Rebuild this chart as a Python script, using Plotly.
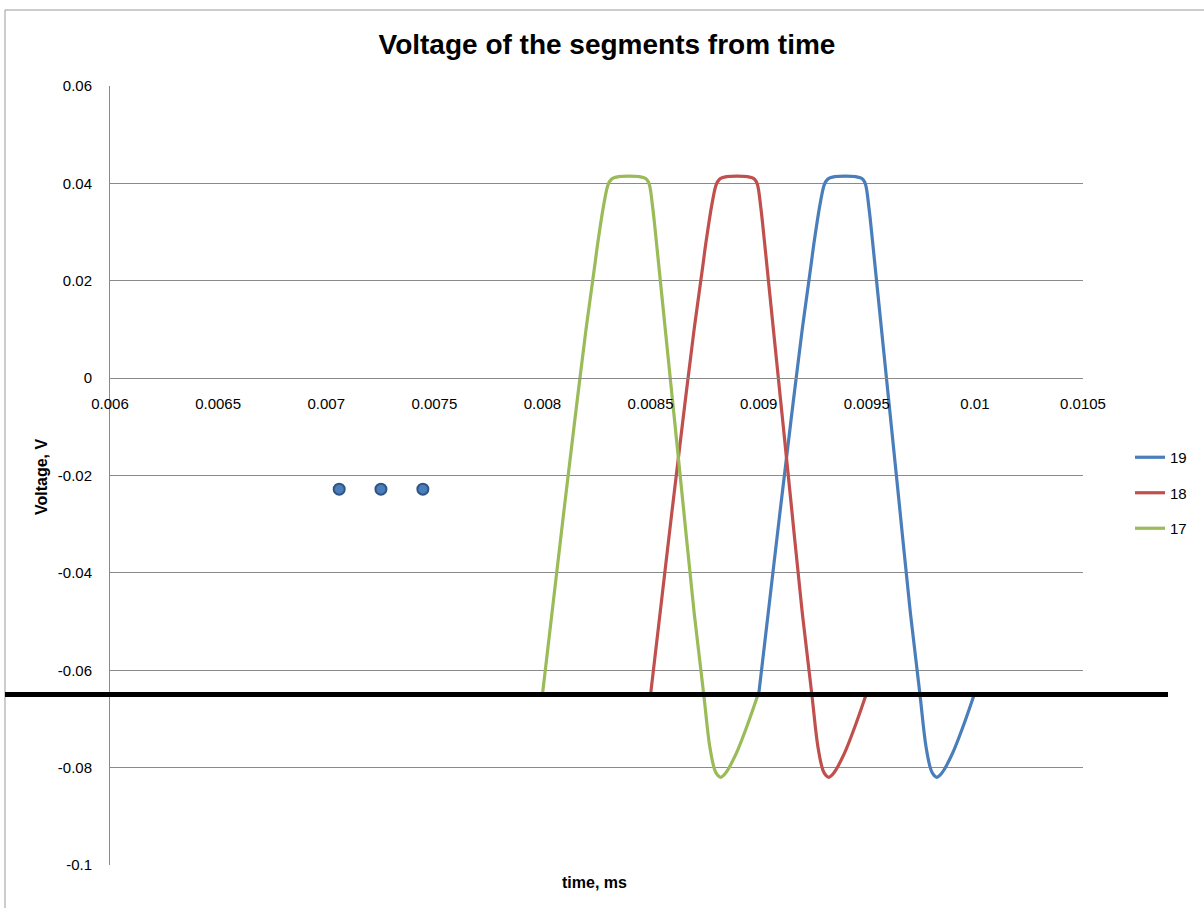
import plotly.graph_objects as go

# ---------------- data ----------------
t17 = [0.008000, 0.008050, 0.008100, 0.008150, 0.008200, 0.008240, 0.008258, 0.008285, 0.008304,
       0.008318, 0.008334, 0.008352, 0.008400, 0.008448, 0.008466, 0.008482, 0.008494, 0.008510,
       0.008526, 0.008550, 0.008600, 0.008650, 0.008700, 0.008746, 0.008774, 0.008797, 0.008811,
       0.008824, 0.008840, 0.008858, 0.008880, 0.008905, 0.008950, 0.008997]
v17 = [-0.0650, -0.0460, -0.0270, -0.0085, 0.0095, 0.0225, 0.0284, 0.0360, 0.0398,
       0.0408, 0.0412, 0.0414, 0.0415, 0.0414, 0.0412, 0.0408, 0.0398, 0.0350,
       0.0284, 0.0179, -0.0039, -0.0257, -0.0475, -0.0650, -0.0757, -0.0805, -0.0816,
       -0.0820, -0.0815, -0.0804, -0.0786, -0.0762, -0.0710, -0.0650]

t18 = [0.008500, 0.008550, 0.008600, 0.008650, 0.008700, 0.008740, 0.008758, 0.008785, 0.008804,
       0.008818, 0.008834, 0.008852, 0.008900, 0.008948, 0.008966, 0.008982, 0.008994, 0.009010,
       0.009026, 0.009050, 0.009100, 0.009150, 0.009200, 0.009246, 0.009274, 0.009297, 0.009311,
       0.009324, 0.009340, 0.009358, 0.009380, 0.009405, 0.009450, 0.009497]
v18 = [-0.0650, -0.0460, -0.0270, -0.0085, 0.0095, 0.0225, 0.0284, 0.0360, 0.0398,
       0.0408, 0.0412, 0.0414, 0.0415, 0.0414, 0.0412, 0.0408, 0.0398, 0.0350,
       0.0284, 0.0179, -0.0039, -0.0257, -0.0475, -0.0650, -0.0757, -0.0805, -0.0816,
       -0.0820, -0.0815, -0.0804, -0.0786, -0.0762, -0.0710, -0.0650]

t19 = [0.009000, 0.009050, 0.009100, 0.009150, 0.009200, 0.009240, 0.009258, 0.009285, 0.009304,
       0.009318, 0.009334, 0.009352, 0.009400, 0.009448, 0.009466, 0.009482, 0.009494, 0.009510,
       0.009526, 0.009550, 0.009600, 0.009650, 0.009700, 0.009746, 0.009774, 0.009797, 0.009811,
       0.009824, 0.009840, 0.009858, 0.009880, 0.009905, 0.009950, 0.009997]
v19 = [-0.0650, -0.0460, -0.0270, -0.0085, 0.0095, 0.0225, 0.0284, 0.0360, 0.0398,
       0.0408, 0.0412, 0.0414, 0.0415, 0.0414, 0.0412, 0.0408, 0.0398, 0.0350,
       0.0284, 0.0179, -0.0039, -0.0257, -0.0475, -0.0650, -0.0757, -0.0805, -0.0816,
       -0.0820, -0.0815, -0.0804, -0.0786, -0.0762, -0.0710, -0.0650]

dots_t = [0.00706, 0.007253, 0.007447]
dots_v = [-0.0228, -0.0228, -0.0228]

rest_level = -0.065

x_ticks = [0.006, 0.0065, 0.007, 0.0075, 0.008, 0.0085, 0.009, 0.0095, 0.010, 0.0105]
x_tick_labels = ["0.006", "0.0065", "0.007", "0.0075", "0.008", "0.0085", "0.009", "0.0095", "0.01", "0.0105"]
y_ticks = [0.06, 0.04, 0.02, 0.0, -0.02, -0.04, -0.06, -0.08, -0.1]
y_tick_labels = ["0.06", "0.04", "0.02", "0", "-0.02", "-0.04", "-0.06", "-0.08", "-0.1"]

# ---------------- layout helpers ----------------
W, H = 1204, 908
L, R, T, B = 110, 1083, 86, 865


def px(xp):
    return (xp - L) / (R - L)


def py(yp):
    return (B - yp) / (B - T)


GRID = "#8a8a8a"
FONT = "Liberation Sans, Arial, sans-serif"
TICKFONT = dict(family=FONT, size=15, color="#000000")

fig = go.Figure()

fig.add_trace(go.Scatter(x=dots_t, y=dots_v, mode="markers", showlegend=False,
                         marker=dict(size=11, color="#4A7EBB", line=dict(color="#2F5587", width=2))))
fig.add_trace(go.Scatter(x=t19, y=v19, mode="lines", name="19", legendgroup="19",
                         line=dict(color="#4A7EBB", width=3.2, shape="spline", smoothing=1.0)))
fig.add_trace(go.Scatter(x=t18, y=v18, mode="lines", name="18", legendgroup="18",
                         line=dict(color="#C0504D", width=3.2, shape="spline", smoothing=1.0)))
fig.add_trace(go.Scatter(x=t17, y=v17, mode="lines", name="17", legendgroup="17",
                         line=dict(color="#9BBB59", width=3.2, shape="spline", smoothing=1.0)))

y0_pos = (0 - (-0.1)) / (0.06 - (-0.1))

fig.update_layout(
    width=W, height=H,
    margin=dict(l=L, r=W - R, t=T, b=H - B, pad=0),
    paper_bgcolor="white", plot_bgcolor="white",
    title=dict(text="<b>Voltage of the segments from time</b>", x=607 / W, xanchor="center",
               y=1 - 44 / H, yanchor="middle",
               font=dict(family=FONT, size=28, color="#000000")),
    xaxis=dict(range=[0.006, 0.0105], tickvals=x_ticks, ticktext=x_tick_labels,
               anchor="free", position=y0_pos, showgrid=False, zeroline=False,
               showline=True, linecolor=GRID, linewidth=1, ticks="", tickfont=TICKFONT,
               ticklabelstandoff=12),
    yaxis=dict(range=[-0.1, 0.06], tickvals=y_ticks, ticktext=y_tick_labels,
               showgrid=True, gridcolor=GRID, gridwidth=1, zeroline=False,
               showline=True, linecolor=GRID, linewidth=1, ticks="", tickfont=TICKFONT,
               ticklabelstandoff=14),
    legend=dict(x=px(1130), y=py(441), xanchor="left", yanchor="top",
                traceorder="grouped", tracegroupgap=13,
                font=dict(family=FONT, size=15, color="#000000"),
                bgcolor="rgba(0,0,0,0)", itemwidth=30),
    showlegend=True,
)

# axis titles
fig.add_annotation(text="<b>time, ms</b>", xref="paper", yref="paper", x=px(594), y=py(882),
                   xanchor="center", yanchor="middle",
                   showarrow=False, font=dict(family=FONT, size=16, color="#000000"))
fig.add_annotation(text="<b>Voltage, V</b>", xref="paper", yref="paper", x=px(41), y=py(477),
                   xanchor="center", yanchor="middle",
                   showarrow=False, textangle=-90, font=dict(family=FONT, size=16, color="#000000"))

# chart frame
fig.add_shape(type="line", xref="paper", yref="paper", x0=px(5), x1=px(1204), y0=py(10), y1=py(10),
              line=dict(color="#9a9a9a", width=1), layer="above")
fig.add_shape(type="line", xref="paper", yref="paper", x0=px(5), x1=px(5), y0=py(10), y1=py(908),
              line=dict(color="#9a9a9a", width=1), layer="above")

# thick resting-level line
fig.add_shape(type="line", xref="paper", yref="y", x0=px(5), x1=px(1168), y0=rest_level, y1=rest_level,
              line=dict(color="#000000", width=5), layer="above")

fig.write_html("out.html", config={"displayModeBar": False},
               post_script="document.body.style.margin='0';")
